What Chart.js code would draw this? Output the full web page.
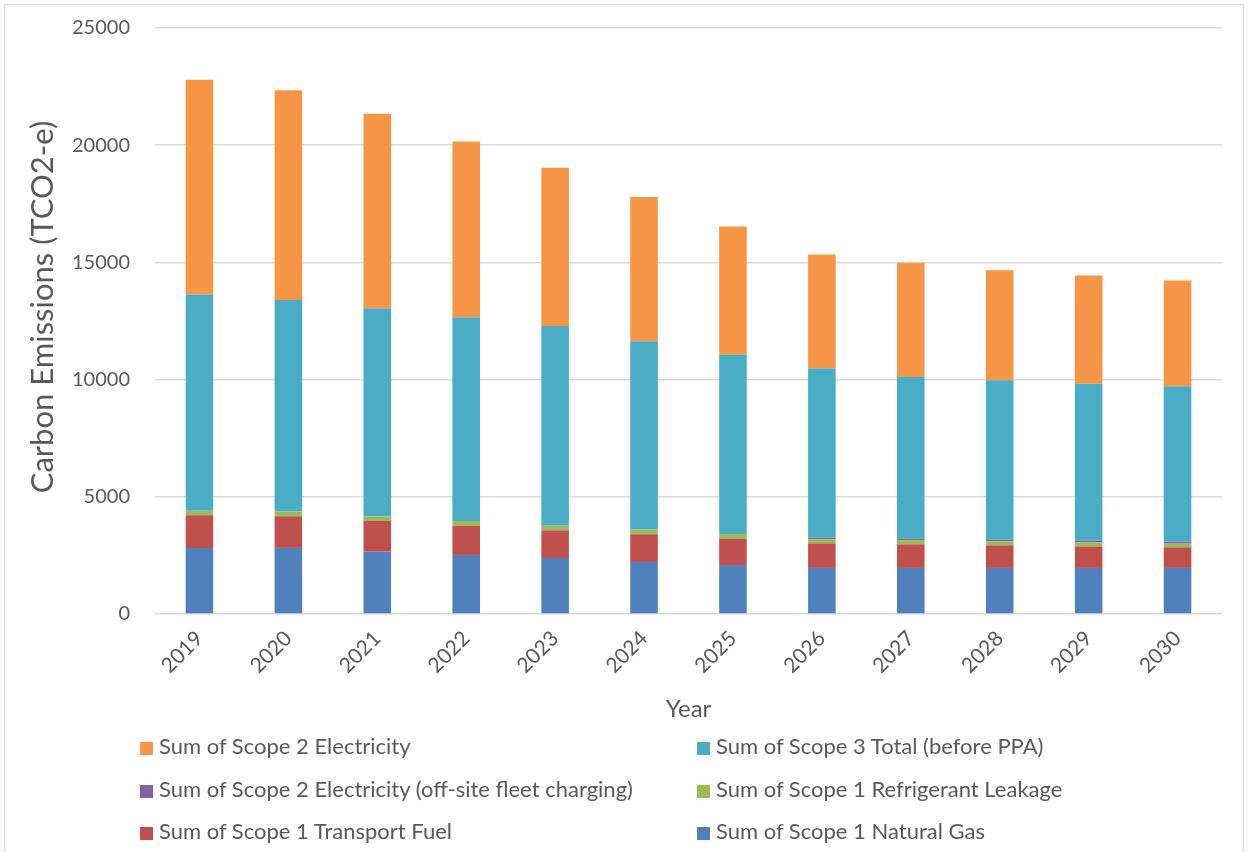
<!DOCTYPE html>
<html>
<head>
<meta charset="utf-8">
<script src="https://cdn.jsdelivr.net/npm/chart.js@4.4.1/dist/chart.umd.min.js"></script>
<style>
  html, body { margin: 0; padding: 0; background: #fff; }
  #wrap { position: relative; width: 1250px; height: 852px; overflow: hidden; }
  #frame { position: absolute; left: 4px; top: 4px; width: 1240px; height: 870px; border: 1.5px solid #D9D9D9; box-sizing: border-box; }
  #c { position: absolute; left: 0; top: 0; }
  .leg { position: absolute; font-family: Lato, "Open Sans", sans-serif; font-size: 22px; color: #595959; white-space: nowrap; line-height: 26px; }
  .leg i { display: inline-block; width: 13px; height: 13px; margin-right: 6px; vertical-align: -1px; }
</style>
</head>
<body>
<div id="wrap">
  <div id="frame"></div>
  <canvas id="c" width="1250" height="852"></canvas>
  <div id="legend"></div>
</div>
<script>
const years = ['2019','2020','2021','2022','2023','2024','2025','2026','2027','2028','2029','2030'];

const naturalGas      = [2820, 2820, 2660, 2520, 2390, 2220, 2090, 1965, 1965, 1965, 1965, 1965];
const transportFuel   = [1390, 1350, 1310, 1250, 1180, 1180, 1125, 1050, 1005,  965,  920,  880];
const refrigerant     = [ 200,  200,  196,  200,  200,  200,  200,  170,  188,  170,  170,  158];
const fleetCharging   = [   0,    0,    0,    0,    0,    0,    0,   65,   55,   72,   73,   85];
const scope3Total     = [9220, 9030, 8880, 8690, 8520, 8035, 7650, 7220, 6900, 6800, 6700, 6625];
const scope2Elec      = [9160, 8940, 8295, 7500, 6745, 6150, 5465, 4865, 4870, 4695, 4610, 4515];

const yTicks = { min: 0, max: 25000, step: 5000 };
const yTitle = 'Carbon Emissions (TCO2-e)';

const textColor = '#595959';
const gridColor = '#D9D9D9';
const fontFamily = 'Lato, "Open Sans", sans-serif';

// Stack order bottom to top; legend lists them top to bottom
const datasets = [
  { label: 'Sum of Scope 1 Natural Gas', data: naturalGas, backgroundColor: '#4F81BD' },
  { label: 'Sum of Scope 1 Transport Fuel', data: transportFuel, backgroundColor: '#C0504D' },
  { label: 'Sum of Scope 1 Refrigerant Leakage', data: refrigerant, backgroundColor: '#9BBB59' },
  { label: 'Sum of Scope 2 Electricity (off-site fleet charging)', data: fleetCharging, backgroundColor: '#8064A2' },
  { label: 'Sum of Scope 3 Total (before PPA)', data: scope3Total, backgroundColor: '#4BACC6' },
  { label: 'Sum of Scope 2 Electricity', data: scope2Elec, backgroundColor: '#F79646' }
].map(d => Object.assign(d, {
  categoryPercentage: 1,
  barPercentage: 0.31,
  borderWidth: 0
}));

// Vertical axis title, set slightly above the plot's middle
const yTitlePlugin = {
  id: 'yTitle',
  afterDraw(chart) {
    const { ctx } = chart;
    ctx.save();
    ctx.translate(43, 307);
    ctx.rotate(-Math.PI / 2);
    ctx.font = '31px ' + fontFamily;
    ctx.fillStyle = textColor;
    ctx.textAlign = 'center';
    ctx.textBaseline = 'middle';
    ctx.fillText(yTitle, 0, 0);
    ctx.restore();
  }
};

const chart = new Chart(document.getElementById('c'), {
  type: 'bar',
  data: { labels: years, datasets },
  plugins: [yTitlePlugin],
  options: {
    responsive: false,
    animation: false,
    devicePixelRatio: 1,
    layout: { padding: { left: 0, top: 28, right: 28, bottom: 122 } },
    plugins: { legend: { display: false }, tooltip: { enabled: false } },
    scales: {
      x: {
        stacked: true,
        grid: { display: false },
        border: { display: false },
        ticks: {
          color: textColor,
          font: { family: fontFamily, size: 21 },
          minRotation: 45, maxRotation: 45,
          padding: 4
        },
        title: {
          display: true, text: 'Year', color: textColor,
          font: { family: fontFamily, size: 24 },
          padding: { top: 0, bottom: 6 }
        },
        afterFit: s => { s.height = 116; }
      },
      y: {
        stacked: true,
        min: yTicks.min, max: yTicks.max,
        grid: { color: gridColor, lineWidth: 1.5, drawTicks: false },
        border: { display: false },
        ticks: {
          stepSize: yTicks.step,
          color: textColor,
          font: { family: fontFamily, size: 20 },
          padding: 25,
          callback: v => String(v)
        },
        afterFit: s => { s.width = 155; s.paddingTop = 0; s.paddingBottom = 0; }
      }
    }
  }
});

// Two-column legend, top of stack first
const legendOrder = chart.data.datasets.slice().reverse();
const colX = [140, 697];
const rowY = [733, 776, 818];
const legendEl = document.getElementById('legend');
legendOrder.forEach((ds, i) => {
  const el = document.createElement('div');
  el.className = 'leg';
  el.style.left = colX[i % 2] + 'px';
  el.style.top = rowY[Math.floor(i / 2)] + 'px';
  el.innerHTML = '<i style="background:' + ds.backgroundColor + '"></i>' + ds.label;
  legendEl.appendChild(el);
});
</script>
</body>
</html>
